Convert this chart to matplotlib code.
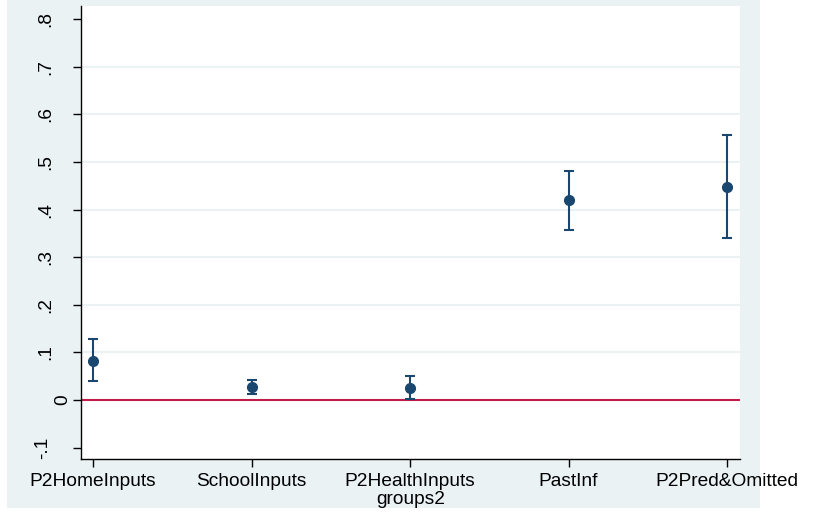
import matplotlib
matplotlib.use("Agg")
import matplotlib.pyplot as plt
from matplotlib.patches import Rectangle

plt.rcParams['font.family'] = ['Liberation Sans', 'DejaVu Sans']

# Coefficient estimates with confidence bounds by group
groups = ["P2HomeInputs", "SchoolInputs", "P2HealthInputs", "PastInf", "P2Pred&Omitted"]
estimates = [0.083, 0.027, 0.025, 0.420, 0.447]
lower = [0.039, 0.012, 0.002, 0.358, 0.340]
upper = [0.1275, 0.042, 0.050, 0.482, 0.556]

yticks = [-0.1, 0, 0.1, 0.2, 0.3, 0.4, 0.5, 0.6, 0.7, 0.8]
yticklabels = ["-.1", "0", ".1", ".2", ".3", ".4", ".5", ".6", ".7", ".8"]
grid_levels = [0.1, 0.2, 0.3, 0.4, 0.5, 0.6, 0.7]

navy = "#1a476f"
bg = "#eaf2f3"
ref_red = "#c41a48"
FS = 13.8

FIG_W, FIG_H = 813, 514
AX_L, AX_R, AX_B, AX_T = 81, 740, 459, 6

fig = plt.figure(figsize=(FIG_W / 100, FIG_H / 100), dpi=100, facecolor="white")
fig.patches.append(Rectangle((7 / FIG_W, 6 / FIG_H), 753 / FIG_W, 1 - 6 / FIG_H,
                             transform=fig.transFigure, facecolor=bg,
                             edgecolor="none", zorder=-10))

ax = fig.add_axes([AX_L / FIG_W, (FIG_H - AX_B) / FIG_H,
                   (AX_R - AX_L) / FIG_W, (AX_B - AX_T) / FIG_H])
ax.set_facecolor("white")

x = list(range(1, len(groups) + 1))
for g in grid_levels:
    ax.axhline(g, color=bg, lw=1.5, zorder=1)
ax.axhline(0, color=ref_red, lw=1.5, zorder=2)

yerr = [[e - l for e, l in zip(estimates, lower)],
        [u - e for e, u in zip(estimates, upper)]]
ax.errorbar(x, estimates, yerr=yerr, fmt="o", color=navy, ecolor=navy,
            elinewidth=1.5, capsize=3.5, capthick=1.5, markersize=7, zorder=3)

ax.set_xlim(0.924, 5.082)
ax.set_ylim(-0.124, 0.828)
ax.set_xticks(x)
ax.set_xticklabels(groups, fontsize=FS)
ax.set_yticks(yticks)
ax.set_yticklabels([])
ax.tick_params(axis="y", length=5.5, width=1)
ax.tick_params(axis="x", length=5.5, width=1, pad=4.5)
ax.set_xlabel("groups2", fontsize=FS, labelpad=0.5)

# Rotated y labels, placed by their own width like the original graph engine
ytrans = ax.get_yaxis_transform()
for val, lab in zip(yticks, yticklabels):
    if lab == "0":
        cx = 62.5
    elif lab.startswith("-"):
        cx = 42.5
    else:
        cx = 46
    ax.text((cx - AX_L) / (AX_R - AX_L), val, lab, transform=ytrans,
            rotation=90, ha="center", va="center", fontsize=FS,
            clip_on=False)

for side in ("top", "right"):
    ax.spines[side].set_visible(False)
for side in ("left", "bottom"):
    ax.spines[side].set_linewidth(1)
    ax.spines[side].set_color("black")

fig.savefig("out.png", dpi=100, facecolor="white")
